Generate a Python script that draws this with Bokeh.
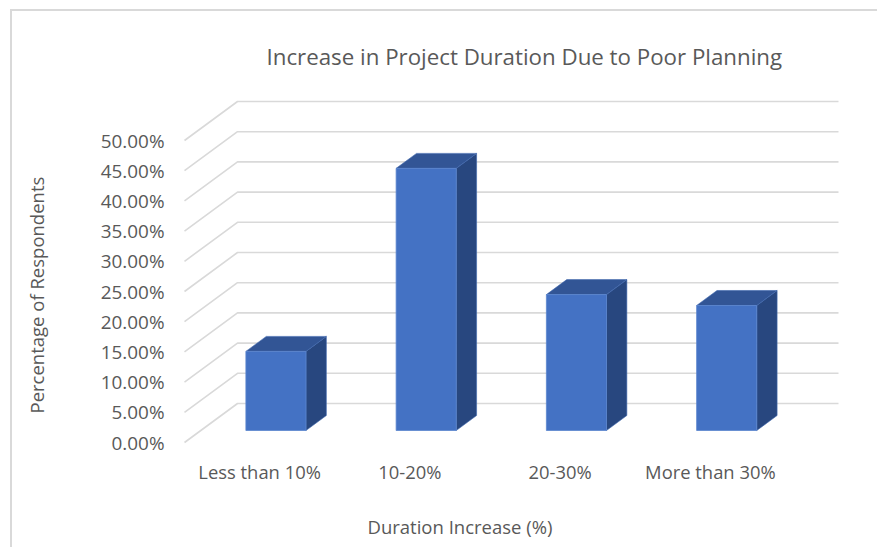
from bokeh.plotting import figure
from bokeh.models import Range1d, LinearAxis, FixedTicker, Title
from bokeh.embed import file_html
from bokeh.resources import INLINE

categories = ["Less than 10%", "10-20%", "20-30%", "More than 30%"]
values = [13.1, 43.4, 22.5, 20.7]
y_ticks = [0, 5, 10, 15, 20, 25, 30, 35, 40, 45, 50]
title = "Increase in Project Duration Due to Poor Planning"
x_title = "Duration Increase (%)"
y_title = "Percentage of Respondents"

TEXT = "#595959"
FONT = "Open Sans"
GRID = "#D9D9D9"
FRONT, SIDE, TOP = "#4472C4", "#28477F", "#325595"

DX, DY = 0.3527, 6.457
Z0, Z1 = 0.3077, 0.692
BAR_W = 0.4

def proj(x, z, v):
    return x + DX * z, v + DY * z

p = figure(width=867, height=538, output_backend="svg", toolbar_location=None,
           x_range=Range1d(-0.9052, 4.6256), y_range=Range1d(-11.424, 58.28),
           min_border_left=36, min_border_right=0, min_border_top=79, min_border_bottom=38,
           x_axis_type=None, y_axis_type=None, outline_line_color=None,
           background_fill_color=None, margin=(9, 0, 0, 10))
p.grid.visible = False
p.styles = {"border-left": f"2px solid {GRID}", "border-top": f"2px solid {GRID}"}

def label(text, size, offset, standoff):
    return Title(text=text, text_color=TEXT, text_font=FONT, text_font_size=size,
                 text_font_style="normal", align="left", offset=offset, standoff=standoff)

# Axes sit at fixed places inside the enlarged frame, so the axis titles can stand further out.
xa = LinearAxis(ticker=FixedTicker(ticks=[i + 0.5 for i in range(len(categories))]),
                major_label_overrides={i + 0.5: c for i, c in enumerate(categories)},
                fixed_location=-1.325)
ya = LinearAxis(ticker=FixedTicker(ticks=y_ticks),
                major_label_overrides={v: f"{v:.2f}%" for v in y_ticks},
                fixed_location=-0.0932)
for a in (xa, ya):
    a.axis_line_color = None
    a.major_tick_line_color = None
    a.minor_tick_line_color = None
    a.major_label_text_color = TEXT
    a.major_label_text_font = FONT
xa.major_label_text_font_size = "18.4px"
ya.major_label_text_font_size = "18.9px"
xa.major_label_standoff = 2
ya.major_label_standoff = 0
p.add_layout(xa, "below")
p.add_layout(ya, "left")
p.add_layout(label(title, "22.3px", 218, 38), "above")
p.add_layout(label(x_title, "18.5px", 319, 0), "below")
p.add_layout(label(y_title, "18.5px", 98, 0), "left")

gx, gy = [], []
n = len(categories)
for v in y_ticks:
    a, b, c = proj(0, 0, v), proj(0, 1, v), proj(n, 1, v)
    gx.append([a[0], b[0], c[0]])
    gy.append([a[1], b[1], c[1]])
p.multi_line(gx, gy, line_color=GRID, line_width=1.6)

fx, fy, sx, sy, tx, ty = [], [], [], [], [], []
for i, v in enumerate(values):
    l, r = i + 0.5 - BAR_W / 2, i + 0.5 + BAR_W / 2
    q = [proj(l, Z0, 0), proj(r, Z0, 0), proj(r, Z0, v), proj(l, Z0, v)]
    fx.append([c[0] for c in q]); fy.append([c[1] for c in q])
    q = [proj(r, Z0, 0), proj(r, Z1, 0), proj(r, Z1, v), proj(r, Z0, v)]
    sx.append([c[0] for c in q]); sy.append([c[1] for c in q])
    q = [proj(l, Z0, v), proj(r, Z0, v), proj(r, Z1, v), proj(l, Z1, v)]
    tx.append([c[0] for c in q]); ty.append([c[1] for c in q])
p.patches(sx, sy, fill_color=SIDE, line_color="#4068AE", line_width=0.6)
p.patches(tx, ty, fill_color=TOP, line_color="#4068AE", line_width=0.6)
p.patches(fx, fy, fill_color=FRONT, line_color="#5B85CE", line_width=0.8)

open("out.html", "w").write(file_html(p, INLINE))
